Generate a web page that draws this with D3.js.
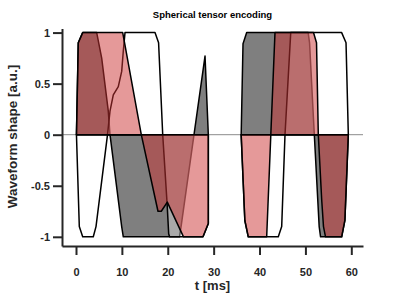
<!DOCTYPE html>
<html>
<head>
<meta charset="utf-8">
<script src="https://cdn.jsdelivr.net/npm/d3@7"></script>
<style>
  body { margin: 0; background: #fff; }
  svg { display: block; font-family: "Liberation Sans", Arial, sans-serif; }
</style>
</head>
<body>
<script>
// axis ticks
var xTicks = [0, 10, 20, 30, 40, 50, 60];
var yTicks = [-1, -0.5, 0, 0.5, 1];
var yTickLabels = ['-1', '-0.5', '0', '0.5', '1'];

// gray waveform (two encoding blocks, NaN splits them)
var tGray = [0.1, 0.5, 1.46, 4.51, 5.6, 6.32, 7.04, 7.41, 9.96, 10.31, 22.56, 22.93, 25.72, 28.12, 28.84,
             NaN,
             36.0, 36.4, 37.2, 50.6, 50.9, 51.94, 53.0, 53.3, 57.9, 58.6, 59.35];
var gGray = [0, 0.9, 1, 1, 0.75, 0.49, 0.23, 0, -0.9, -1, -1, -0.89, 0, 0.77, 0,
             NaN,
             0, 0.89, 1, 1, 0.9, 0, -0.9, -1, -1, -0.84, 0];

// white waveform
var tWhite = [0.1, 0.72, 1.46, 3.77, 4.36, 6.87, 7.41, 8.13, 9.22, 9.96, 10.31, 10.68, 17.22, 18.0, 18.9, 19.85, 20.2, 20.4, 27.68, 28.84, 28.84,
              NaN,
              36.0, 36.8, 37.55, 44.09, 44.83, 45.55, 46.8, 57.9, 58.85, 59.35];
var gWhite = [0, -0.9, -1, -1, -0.9, 0, 0.23, 0.39, 0.47, 0.62, 0.82, 1, 1, 0.9, 0, -0.67, -0.97, -1, -1, -0.87, 0,
              NaN,
              0, -0.84, -1, -1, -0.9, 0, 1, 1, 0.9, 0];

// red waveform
var tRed = [0.1, 0.5, 1.46, 10.18, 14.23, 17.87, 18.59, 19.9, 23.43, 27.68, 28.84, 28.84,
            NaN,
            36.0, 36.8, 37.55, 41.56, 42.46, 43.37, 51.76, 52.42, 52.81, 53.55, 53.94, 54.38, 57.9, 58.6, 59.35];
var gRed = [0, 0.9, 1, 1, 0, -0.75, -0.75, -0.66, -1, -1, -0.87, 0,
            NaN,
            0, -0.84, -1, -1, 0, 1, 1, 0.9, 0, -0.64, -0.9, -1, -1, -0.84, 0];

var width = 400, height = 300;

var svg = d3.select('body').append('svg')
  .attr('width', width)
  .attr('height', height);

var x = d3.scaleLinear().domain([-3.05, 62.55]).range([62, 363]);
var y = d3.scaleLinear().domain([-1.09, 1.04]).range([246, 28.5]);

// zero line
svg.append('line')
  .attr('x1', x.range()[0]).attr('x2', x.range()[1])
  .attr('y1', y(0)).attr('y2', y(0))
  .attr('stroke', '#8c8c8c')
  .attr('stroke-width', 1);

function toPoints(ts, gs) {
  return ts.map(function(t, i) { return isNaN(t) ? null : {t: t, g: gs[i]}; });
}

var area = d3.area()
  .defined(function(d) { return d !== null; })
  .x(function(d) { return x(d.t); })
  .y0(y(0))
  .y1(function(d) { return y(d.g); });

// drawing order matters: gray, then translucent white, then translucent red
var waves = [
  {pts: toPoints(tGray, gGray), fill: '#000000', op: 0.5},
  {pts: toPoints(tWhite, gWhite), fill: '#ffffff', op: 0.33},
  {pts: toPoints(tRed, gRed), fill: 'rgb(204,51,51)', op: 0.5}
];

waves.forEach(function(w) {
  svg.append('path')
    .attr('d', area(w.pts))
    .attr('fill', w.fill)
    .attr('fill-opacity', w.op)
    .attr('stroke', '#000')
    .attr('stroke-width', 1.5)
    .attr('stroke-linejoin', 'round');
});

var axisColor = '#262626';

var xAxis = d3.axisBottom(x)
  .tickValues(xTicks)
  .tickSizeInner(9)
  .tickSizeOuter(0)
  .tickPadding(13.5);

var yAxis = d3.axisLeft(y)
  .tickValues(yTicks)
  .tickFormat(function(d, i) { return yTickLabels[i]; })
  .tickSizeInner(9)
  .tickSizeOuter(0)
  .tickPadding(3);

var gx = svg.append('g')
  .attr('transform', 'translate(0,' + y.range()[0] + ')')
  .call(xAxis);

var gy = svg.append('g')
  .attr('transform', 'translate(' + x.range()[0] + ',0)')
  .call(yAxis);

[gx, gy].forEach(function(g) {
  g.select('.domain').attr('stroke', axisColor).attr('stroke-width', 2);
  g.selectAll('.tick line').attr('stroke', axisColor).attr('stroke-width', 2);
  g.selectAll('.tick text')
    .attr('fill', axisColor)
    .style('font-size', '11px')
    .style('font-weight', 'bold')
    .style('font-family', '"Liberation Sans", Arial, sans-serif');
});

// title and labels
svg.append('text')
  .attr('x', 212.5).attr('y', 18)
  .attr('text-anchor', 'middle')
  .style('font-size', '9.5px')
  .style('font-weight', 'bold')
  .attr('fill', '#000')
  .text('Spherical tensor encoding');

svg.append('text')
  .attr('x', 212.5).attr('y', 290)
  .attr('text-anchor', 'middle')
  .style('font-size', '13px')
  .style('font-weight', 'bold')
  .attr('fill', axisColor)
  .text('t [ms]');

svg.append('text')
  .attr('transform', 'translate(17,136.5) rotate(-90)')
  .attr('text-anchor', 'middle')
  .style('font-size', '13.5px')
  .style('font-weight', 'bold')
  .attr('fill', axisColor)
  .text('Waveform shape [a.u.]');
</script>
</body>
</html>
